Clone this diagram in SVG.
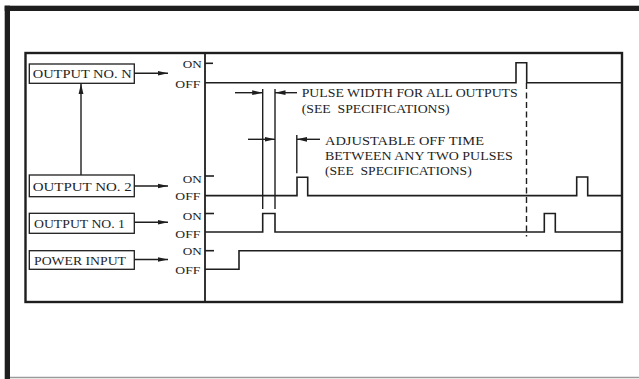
<svg xmlns="http://www.w3.org/2000/svg" width="639" height="379" viewBox="0 0 639 379">
<style>
.ln{stroke:#1e1e1e;stroke-width:1.4;fill:none}
.wv{stroke:#1e1e1e;stroke-width:1.6;fill:none}
.bx{stroke:#1e1e1e;stroke-width:1.3;fill:#fff}
.t{font-family:"Liberation Serif","Times New Roman",serif;fill:#1e1e1e}
.bt{font-size:12px}
.st{font-size:11px}
.lb{font-size:11.5px}
</style>
<defs>
<marker id="ah" markerUnits="userSpaceOnUse" markerWidth="11" markerHeight="6" refX="10.5" refY="3" orient="auto">
<path d="M0,0.6 L10.5,3 L0,5.4 Z" fill="#1e1e1e"/>
</marker>
</defs>
<rect width="639" height="379" fill="#fff"/>
<g id="frame">
<rect x="4.7" y="5.7" width="634.3" height="5.3" fill="#1e1e1e"/>
<rect x="4.7" y="5.7" width="5.3" height="373.3" fill="#1e1e1e"/>
<line x1="10" y1="377.6" x2="639" y2="377.6" stroke="#9a9a9a" stroke-width="1.5"/>
<rect x="25.5" y="53" width="596.5" height="249" fill="none" stroke="#1e1e1e" stroke-width="2.4"/>
<line x1="205" y1="53" x2="205" y2="302" stroke="#1e1e1e" stroke-width="1.8"/>
</g>
<g id="node-output-n">
<rect class="bx" x="29.3" y="64" width="105" height="19.3"/>
<text class="t bt" x="32.7" y="78" textLength="99" lengthAdjust="spacingAndGlyphs">OUTPUT NO. N</text>
</g>
<g id="node-output-2">
<rect class="bx" x="29.3" y="175" width="105" height="21.7"/>
<text class="t bt" x="32.7" y="190.5" textLength="99" lengthAdjust="spacingAndGlyphs">OUTPUT NO. 2</text>
</g>
<g id="node-output-1">
<rect class="bx" x="29.3" y="213.3" width="105" height="20"/>
<text class="t bt" x="34" y="228" textLength="91" lengthAdjust="spacingAndGlyphs">OUTPUT NO. 1</text>
</g>
<g id="node-power-input">
<rect class="bx" x="29.3" y="250.7" width="105" height="18.6"/>
<text class="t bt" x="34" y="264.6" textLength="92" lengthAdjust="spacingAndGlyphs">POWER INPUT</text>
</g>
<g id="state-labels">
<text class="t st" x="182.7" y="68.3" textLength="19" lengthAdjust="spacingAndGlyphs">ON</text>
<text class="t st" x="175.3" y="88.3" textLength="25" lengthAdjust="spacingAndGlyphs">OFF</text>
<text class="t st" x="182.7" y="182.7" textLength="19" lengthAdjust="spacingAndGlyphs">ON</text>
<text class="t st" x="175.3" y="199.5" textLength="25" lengthAdjust="spacingAndGlyphs">OFF</text>
<text class="t st" x="182.7" y="220" textLength="19" lengthAdjust="spacingAndGlyphs">ON</text>
<text class="t st" x="175.3" y="238.3" textLength="25" lengthAdjust="spacingAndGlyphs">OFF</text>
<text class="t st" x="182.7" y="255" textLength="19" lengthAdjust="spacingAndGlyphs">ON</text>
<text class="t st" x="175.3" y="273.5" textLength="25" lengthAdjust="spacingAndGlyphs">OFF</text>
</g>
<g id="waveforms">
<line class="wv" x1="205" y1="63.3" x2="213" y2="63.3"/>
<polyline class="wv" points="205,82.7 516,82.7 516,62.7 526.7,62.7 526.7,82.7 622,82.7"/>
<line class="wv" x1="205" y1="176" x2="214" y2="176"/>
<polyline class="wv" points="205,195.6 297,195.6 297,177.2 307.7,177.2 307.7,195.6 576.7,195.6 576.7,177 587.7,177 587.7,195.6 622,195.6"/>
<line class="wv" x1="205" y1="213.5" x2="214" y2="213.5"/>
<polyline class="wv" points="205,232 262.7,232 262.7,213.5 275,213.5 275,232 544.3,232 544.3,213.5 555.3,213.5 555.3,232 622,232"/>
<line class="wv" x1="205" y1="250.7" x2="214" y2="250.7"/>
<polyline class="wv" points="205,269.3 239,269.3 239,250.7 622,250.7"/>
</g>
<g id="connectors">
<line class="ln" x1="134.3" y1="73.3" x2="168" y2="73.3" marker-end="url(#ah)"/>
<line class="ln" x1="134.3" y1="186" x2="168" y2="186" marker-end="url(#ah)"/>
<line class="ln" x1="134.3" y1="222.3" x2="168" y2="222.3" marker-end="url(#ah)"/>
<line class="ln" x1="134.3" y1="259.5" x2="168" y2="259.5" marker-end="url(#ah)"/>
<line class="ln" x1="81" y1="175" x2="81" y2="83.5" marker-end="url(#ah)"/>
</g>
<g id="dimensions">
<line class="ln" x1="262.7" y1="89" x2="262.7" y2="209"/>
<line class="ln" x1="275" y1="89" x2="275" y2="209"/>
<line class="ln" x1="296.8" y1="135" x2="296.8" y2="173.3"/>
<line class="ln" x1="235" y1="92.7" x2="262.7" y2="92.7" marker-end="url(#ah)"/>
<line class="ln" x1="297" y1="92.7" x2="275" y2="92.7" marker-end="url(#ah)"/>
<line class="ln" x1="248" y1="139.3" x2="275" y2="139.3" marker-end="url(#ah)"/>
<line class="ln" x1="320" y1="139.3" x2="296.8" y2="139.3" marker-end="url(#ah)"/>
<line class="ln" x1="526.5" y1="83" x2="526.5" y2="236.5" stroke-dasharray="6 3.5" stroke-width="1.2"/>
</g>
<g id="annotations">
<text class="t lb" x="301.7" y="97" textLength="216" lengthAdjust="spacingAndGlyphs">PULSE WIDTH FOR ALL OUTPUTS</text>
<text class="t lb" x="301.7" y="113" textLength="148" lengthAdjust="spacingAndGlyphs" xml:space="preserve">(SEE  SPECIFICATIONS)</text>
<text class="t lb" x="325" y="145.3" textLength="159" lengthAdjust="spacingAndGlyphs">ADJUSTABLE OFF TIME</text>
<text class="t lb" x="325" y="160.3" textLength="187.7" lengthAdjust="spacingAndGlyphs">BETWEEN ANY TWO PULSES</text>
<text class="t lb" x="325" y="174.8" textLength="146.7" lengthAdjust="spacingAndGlyphs" xml:space="preserve">(SEE  SPECIFICATIONS)</text>
</g>
</svg>
